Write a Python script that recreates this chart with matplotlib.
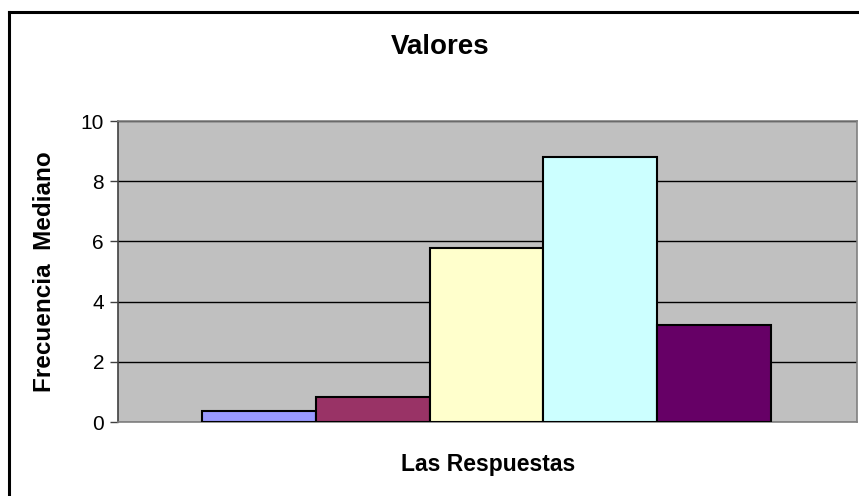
import matplotlib.pyplot as plt
from matplotlib.lines import Line2D

# datos (una sola categoria, cinco series)
series = ["Serie 1", "Serie 2", "Serie 3", "Serie 4", "Serie 5"]
valores = [0.35, 0.83, 5.78, 8.82, 3.21]
colores = ["#9999FF", "#993366", "#FFFFCC", "#CCFFFF", "#660066"]
yticks = [0, 2, 4, 6, 8, 10]

plt.rcParams["font.family"] = ["Liberation Sans", "DejaVu Sans"]

W, H = 859, 496
fig = plt.figure(figsize=(W / 100, H / 100), dpi=100)

# marco del grafico: solo se ven el borde superior y el izquierdo
fig.lines.append(Line2D([9 / W, 1.0], [1 - 12 / H, 1 - 12 / H],
                        transform=fig.transFigure, color="black", linewidth=2.2))
fig.lines.append(Line2D([9 / W, 9 / W], [0, 1 - 12 / H],
                        transform=fig.transFigure, color="black", linewidth=2.2))

ax = fig.add_axes([118 / W, (H - 422) / H, (856.5 - 118) / W, (422 - 121) / H])
ax.set_facecolor("#C0C0C0")

x = list(range(len(valores)))
ax.bar(x, valores, width=1.0, color=colores, edgecolor="black",
       linewidth=1.5, zorder=3)

margen = 84 / 114
ax.set_xlim(-0.5 - margen, len(valores) - 0.5 + margen + 1.5 / 114)
ax.set_ylim(0, 10)
ax.set_yticks(yticks)
ax.set_xticks([])
ax.yaxis.grid(True, color="black", linewidth=1.0, zorder=1)
ax.set_axisbelow(True)

for s in ["top", "right", "bottom"]:
    ax.spines[s].set_color("#808080")
    ax.spines[s].set_linewidth(1.2)
ax.spines["left"].set_color("#404040")
ax.spines["left"].set_linewidth(1.2)
ax.tick_params(axis="y", length=6, width=1, color="#404040",
               labelsize=15, pad=4)

fig.text(440 / W, 1 - 47 / H, "Valores", ha="center", va="center",
         fontsize=20, fontweight="bold")
fig.text(488 / W, 1 - 465 / H, "Las Respuestas", ha="center", va="center",
         fontsize=16.5, fontweight="bold")
fig.text(45 / W, 1 - 272 / H, "Frecuencia  Mediano", ha="center",
         va="center", rotation=90, fontsize=17.5, fontweight="bold")

fig.savefig("out.png", dpi=100)
